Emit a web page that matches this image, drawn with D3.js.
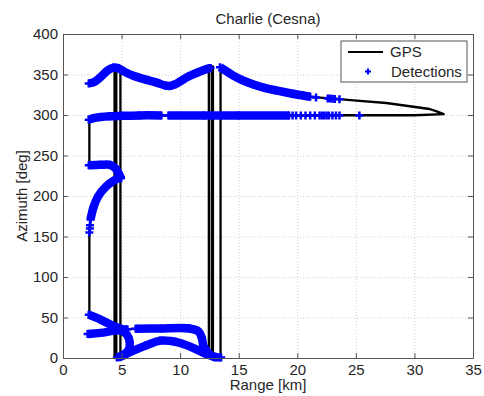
<!DOCTYPE html>
<html>
<head>
<meta charset="utf-8">
<script src="https://cdn.jsdelivr.net/npm/d3@7"></script>
<style>
  body { margin: 0; background: #fff; }
  #chart { width: 484px; height: 396px; }
  text { font-family: "Liberation Sans", Arial, sans-serif; fill: #262626; }
  .grid line { stroke: #cfcfcf; stroke-dasharray: 1,2; }
  .grid path { display: none; }
  .axis path, .axis line { stroke: #555; }
</style>
</head>
<body>
<div id="chart"></div>
<script>
// tick labels
const xTicks = [0, 5, 10, 15, 20, 25, 30, 35];
const yTicks = [0, 50, 100, 150, 200, 250, 300, 350, 400];

// GPS track, [range km, azimuth deg], jumps at 0/360 are the north crossings
const gpsTrack = [
  [2.25, 30], [3.2, 31], [4.3, 33.5], [5.1, 35.5], [6.2, 36], [8.3, 36.5], [10.8, 36.5],
  [11.55, 33], [11.85, 25], [12.0, 14.5], [12.3, 7], [12.45, 2], [12.45, 0], [12.45, 360],
  [12.7, 360], [12.7, 0], [12.8, 0], [12.8, 360], [12.6, 358], [12.2, 356.5], [11.5, 352.5],
  [10.7, 347.5], [10.0, 341.5], [9.6, 338], [9.2, 336], [8.7, 336.5], [8.0, 340], [7.0, 344],
  [6.0, 348.5], [5.5, 351.5], [5.0, 355.5], [4.6, 358], [4.55, 360], [4.55, 0], [4.6, 0.5],
  [5.15, 4], [5.6, 10], [5.7, 19], [5.45, 29], [5.0, 34], [4.3, 39.5], [3.2, 47.5], [2.25, 53.5],
  [2.25, 155], [2.3, 164], [2.35, 171], [2.6, 186], [3.0, 199.5], [3.7, 212], [4.4, 219.5],
  [4.95, 223], [4.95, 222], [4.75, 228], [4.45, 234.5], [4.0, 238.5], [3.2, 238.5], [2.25, 238],
  [2.25, 294], [2.6, 296], [3.2, 297.5], [4.0, 298.5], [5.0, 299], [8.0, 299.5], [15, 299.5],
  [25, 299.7], [30, 299.7], [32.5, 301], [31.9, 304.5], [31.3, 307.4], [27.6, 314.8], [24.8, 318],
  [23.6, 319.5], [21.1, 322.5], [20.5, 324], [19.5, 326.5], [18.3, 330], [17.2, 333.5],
  [16.2, 338], [15.3, 343], [14.5, 349], [13.9, 354.5], [13.45, 359.5], [13.45, 360], [13.45, 0],
  [13.0, 1.5], [12.3, 4.5], [11.1, 12.5], [10.0, 18.5], [9.2, 21], [8.3, 21.5], [7.0, 15],
  [6.0, 10], [5.4, 5], [4.9, 1], [4.9, 0], [4.9, 360], [4.4, 360], [4.4, 0], [4.45, 0],
  [4.45, 358.8], [4.3, 358.5], [3.8, 355], [3.3, 348], [2.7, 341], [2.2, 339]
];

// dense detection runs (the markers overlap into a band)
const detTop = [
  [2.2, 339], [2.7, 341], [3.3, 348], [3.8, 355], [4.3, 358.5], [4.7, 358], [5.0, 355.5],
  [5.5, 351.5], [6.0, 348.5], [7.0, 344], [8.0, 340], [8.7, 336.5], [9.2, 336], [9.6, 338],
  [10.0, 341.5], [10.7, 347.5], [11.5, 352.5], [12.2, 356.5], [12.6, 358]
];
const detTopRight = [
  [13.4, 359], [13.9, 354.5], [14.5, 349], [15.3, 343], [16.2, 338], [17.2, 333.5],
  [18.3, 330], [19.5, 326.5], [20.5, 324], [21.1, 322.5]
];
const det300a = [[2.2, 294], [2.6, 296], [3.2, 297.5], [4.0, 298.5], [5.0, 299], [6.5, 299.5], [8.4, 299.5]];
const det300b = [[9.0, 299.5], [12, 299.5], [15, 299.5], [19.3, 299.5]];
const det238 = [[2.2, 238], [3.2, 238.5], [4.0, 238.5], [4.45, 234.5], [4.75, 228], [4.95, 222]];
const det170 = [[2.35, 171], [2.6, 186], [3.0, 199.5], [3.7, 212], [4.4, 219.5], [4.95, 223]];
const detDiag = [[2.2, 53.5], [3.2, 47.5], [4.3, 39.5], [5.1, 35.5]];
const det30 = [[2.1, 29.5], [3.2, 31], [4.3, 33.5], [5.5, 35.5]];
const det36 = [[6.2, 36], [8.3, 36.5], [10.8, 36.5], [11.55, 33], [11.85, 25], [12.0, 14.5], [12.55, 4], [13.0, 0.5]];
const detLoop = [[5.0, 34], [5.45, 29], [5.7, 19], [5.6, 10], [5.15, 4], [4.6, 0.5]];
const detLower = [
  [4.9, 1], [5.4, 5], [6.0, 9], [7.0, 15], [8.3, 21.5], [9.2, 21], [10.0, 18.5],
  [11.1, 12.5], [12.3, 4.5], [13.0, 1.5], [13.5, 0.5]
];

// isolated detections
const sparseTop = [[21.6, 321.5], [22.6, 320.5], [22.8, 320.3], [23.0, 320], [23.2, 319.8], [23.6, 319.5]];
const sparse300 = [
  [19.6, 299.5], [19.9, 299.5], [20.3, 299.5], [20.7, 299.5], [21.1, 299.5], [21.5, 299.5],
  [21.9, 299.5], [22.1, 299.5], [22.3, 299.5], [22.5, 299.5], [22.7, 299.5], [23.0, 299.5],
  [23.3, 299.5], [23.6, 299.5], [25.3, 299.5]
];
const sparse160 = [[2.25, 155], [2.3, 160], [2.3, 164]];

const denseRuns = [detTop, detTopRight, det300a, det300b, det238, det170, detDiag, det30, det36, detLoop, detLower];
const sparsePoints = [...sparseTop, ...sparse300, ...sparse160];

const width = 484;
const height = 396;
const margin = {top: 34, right: 11, bottom: 38, left: 63};

const x = d3.scaleLinear()
    .domain([0, 35])
    .range([margin.left, width - margin.right]);
const y = d3.scaleLinear()
    .domain([0, 400])
    .range([height - margin.bottom, margin.top]);

const svg = d3.select('#chart')
  .append('svg')
    .attr('width', width)
    .attr('height', height);

// grid
svg.append('g')
    .attr('class', 'grid')
    .attr('transform', `translate(0,${y(0)})`)
    .call(d3.axisBottom(x).tickValues(xTicks.slice(1, -1)).tickSize(-(y(0) - y(400))).tickFormat(''));
svg.append('g')
    .attr('class', 'grid')
    .attr('transform', `translate(${x(0)},0)`)
    .call(d3.axisLeft(y).tickValues(yTicks.slice(1, -1)).tickSize(-(x(35) - x(0))).tickFormat(''));

const cross = s => `M${-s},0H${s}M0,${-s}V${s}`;

// GPS
const gpsLine = d3.line()
    .x(d => x(d[0]))
    .y(d => y(d[1]));

svg.append('path')
    .datum(gpsTrack)
    .attr('d', gpsLine)
    .attr('fill', 'none')
    .attr('stroke', '#000')
    .attr('stroke-width', 2.3)
    .attr('stroke-linejoin', 'round');

// detections
const band = d3.line()
    .curve(d3.curveCatmullRom.alpha(.5))
    .x(d => x(d[0]))
    .y(d => y(d[1]));

svg.selectAll('.det-band')
  .data(denseRuns)
  .enter()
    .append('path')
    .attr('class', 'det-band')
    .attr('d', band)
    .attr('fill', 'none')
    .attr('stroke', '#0000ff')
    .attr('stroke-width', 8.5)
    .attr('stroke-linejoin', 'round');

svg.selectAll('.det-mark')
  .data(denseRuns.flat().concat(sparsePoints))
  .enter()
    .append('path')
    .attr('class', 'det-mark')
    .attr('transform', d => `translate(${x(d[0])},${y(d[1])})`)
    .attr('d', cross(4))
    .attr('stroke', '#0000ff')
    .attr('stroke-width', 2.5);

// axes, ticks inside on all four sides
const styleAxis = g => {
  g.attr('class', 'axis');
  g.selectAll('text').style('font-size', '15px').attr('fill', '#262626');
};

svg.append('g')
    .attr('transform', `translate(0,${y(0)})`)
    .call(d3.axisBottom(x).tickValues(xTicks).tickSizeInner(-5).tickSizeOuter(0).tickPadding(6))
    .call(styleAxis);
svg.append('g')
    .attr('transform', `translate(0,${y(400)})`)
    .call(d3.axisTop(x).tickValues(xTicks).tickSizeInner(-5).tickSizeOuter(0).tickFormat(''))
    .call(styleAxis);
svg.append('g')
    .attr('transform', `translate(${x(0)},0)`)
    .call(d3.axisLeft(y).tickValues(yTicks).tickSizeInner(-5).tickSizeOuter(0).tickPadding(5))
    .call(styleAxis);
svg.append('g')
    .attr('transform', `translate(${x(35)},0)`)
    .call(d3.axisRight(y).tickValues(yTicks).tickSizeInner(-5).tickSizeOuter(0).tickFormat(''))
    .call(styleAxis);

// labels
const midX = (x(0) + x(35)) / 2;
svg.append('text')
    .attr('x', midX)
    .attr('y', 24)
    .attr('text-anchor', 'middle')
    .style('font-size', '15px')
    .text('Charlie (Cesna)');
svg.append('text')
    .attr('x', midX)
    .attr('y', 390)
    .attr('text-anchor', 'middle')
    .style('font-size', '15px')
    .text('Range [km]');
svg.append('text')
    .attr('transform', `translate(27,${(y(0) + y(400)) / 2}) rotate(-90)`)
    .attr('text-anchor', 'middle')
    .style('font-size', '15px')
    .text('Azimuth [deg]');

// legend
const legend = svg.append('g')
    .attr('transform', 'translate(341,41)');
legend.append('rect')
    .attr('width', 126)
    .attr('height', 41)
    .attr('fill', '#fff')
    .attr('stroke', '#555');
legend.append('line')
    .attr('x1', 7).attr('x2', 42)
    .attr('y1', 11).attr('y2', 11)
    .attr('stroke', '#000')
    .attr('stroke-width', 2);
legend.append('text')
    .attr('x', 49)
    .attr('y', 16)
    .style('font-size', '15px')
    .text('GPS');
legend.append('path')
    .attr('transform', 'translate(27,30.5)')
    .attr('d', cross(3))
    .attr('stroke', '#0000ff')
    .attr('stroke-width', 2.2);
legend.append('text')
    .attr('x', 50)
    .attr('y', 36)
    .style('font-size', '15px')
    .text('Detections');
</script>
</body>
</html>
